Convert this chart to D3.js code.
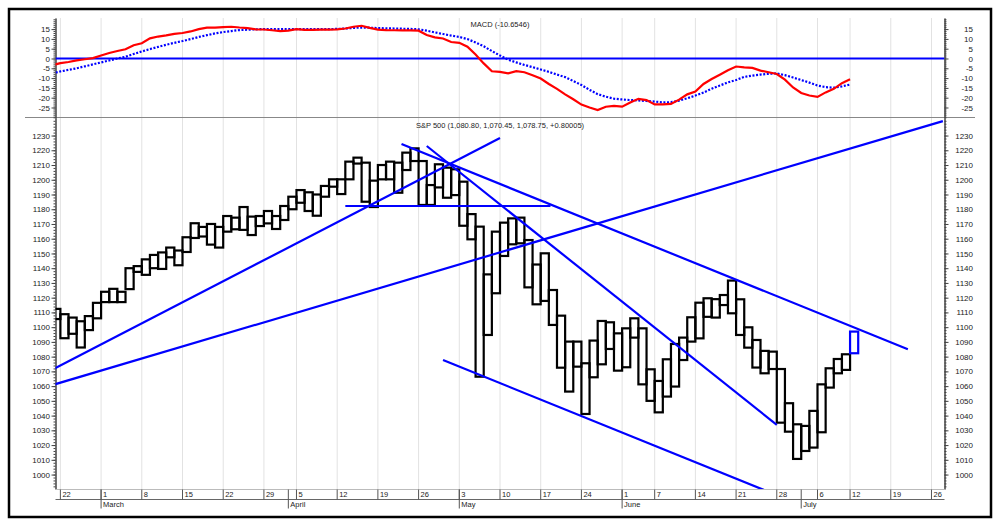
<!DOCTYPE html>
<html><head><meta charset="utf-8">
<script src="https://cdn.jsdelivr.net/npm/d3@7/dist/d3.min.js"></script>
<style>
html,body{margin:0;padding:0;background:#fff;}
svg{display:block;font-family:"Liberation Sans",Arial,sans-serif;}
</style></head><body>
<svg id="c" width="1000" height="526"></svg>
<script>
// ---- DATA (trading-day index 0 = Feb 22, 2010) ----
const boxHighs = [1112.4,1108.8,1106.5,1104,1107.5,1116.5,1124,1126,1124,1140,1141.4,1146,1149,1150.7,1154,1152,1161,1170.5,1168,1170,
1168,1175.4,1174.3,1181.5,1175,1175.4,1178.8,1175.4,1182.2,1188.5,1193,1191.5,1190,1195.8,1200.3,1200.3,1212.3,1215,1211.6,1199.4,
1210,1212.3,1211.6,1218.4,1221.3,1212.7,1196.4,1210.5,1208.2,1207.1,1198.7,1176.7,1168.2,1135.8,1164.8,1170.9,1173.8,1174.3,1159.1,1142.5,
1150.1,1125.2,1107.8,1090.2,1090.2,1075.5,1090.9,1104.2,1103.3,1095.8,1099.2,1106,1099.2,1071.4,1063.5,1078.2,1088.6,1092.9,1106.7,1116.6,
1119.6,1119,1121.8,1131.6,1118.9,1099.9,1091.3,1083.9,1083.4,1071.6,1048.4,1034.1,1033,1043.2,1061.2,1072.1,1078.4,1081.6];
const boxLows = [1105.5,1092.5,1095.5,1086.2,1098,1106,1117,1117,1117,1125.8,1137.5,1135.5,1140,1139.5,1147.4,1142,1151,1160.5,1161.5,1156,
1154,1164.8,1166.4,1166,1162.5,1168.6,1170.4,1166.6,1172.7,1180,1184.4,1178.8,1175.6,1188.5,1195.3,1190.3,1200.3,1211,1185.1,1181.5,
1200.3,1200.3,1191.2,1206.6,1212.7,1182.9,1182.9,1194.8,1187.8,1189.6,1168.8,1159.6,1066.4,1094.7,1123,1148.3,1156.2,1156.9,1127,1115.5,
1117.8,1101.5,1072.5,1056.3,1073.2,1041.1,1066,1074.8,1085.2,1070.5,1072.8,1092.9,1061.2,1050,1042.2,1052.9,1059.7,1077.7,1090.2,1092.4,
1107,1106.5,1115,1109.4,1094.7,1086.1,1072.6,1068.7,1071.6,1035.2,1029.1,1010.6,1016,1018.3,1028.7,1059,1068.7,1071];
const liveBox = {day: 98, high: 1097, low: 1082.3};

// MACD values, first entry is trading day -1
const macdFirstDay = -1;
const macdLine = [-3.4,-2.4,-1.8,-1.0,-0.4,0.2,1.5,2.8,3.8,4.7,6.8,7.8,10.3,11.2,11.8,12.6,13.0,13.8,15.0,15.7,
15.7,16.0,16.2,15.8,15.5,14.9,14.8,14.4,14.0,14.2,15.0,14.6,14.6,14.7,14.7,14.9,15.3,16.2,16.7,15.6,
14.7,14.5,14.4,14.3,14.3,14.2,12.0,10.8,10.2,8.4,8.0,6.0,2.0,-2.5,-6.5,-6.8,-7.6,-6.5,-7.0,-8.5,
-10.2,-13.0,-15.5,-18.3,-20.8,-23.5,-25.0,-26.3,-24.6,-24.2,-24.6,-22.5,-20.6,-21.2,-23.4,-23.4,-23.2,-21.0,-18.3,-16.9,
-13.0,-10.5,-8.3,-6.0,-4.1,-4.5,-4.8,-6.2,-7.0,-7.9,-10.8,-14.8,-17.6,-18.9,-19.6,-17.3,-15.5,-12.6,-10.65];
const signalLine = [-7.6,-6.6,-5.8,-5.0,-4.0,-3.0,-2.0,-1.0,0.0,0.9,2.3,3.6,4.8,5.9,7.0,8.0,8.9,9.9,11.0,11.9,
12.8,13.5,14.0,14.5,14.7,14.9,15.0,15.0,15.0,15.0,15.0,15.0,15.0,15.0,15.0,15.1,15.3,15.6,15.8,15.7,
15.5,15.4,15.3,15.2,15.1,14.9,14.2,13.3,12.5,11.7,11.0,9.9,8.2,6.2,3.8,1.5,-0.6,-2.0,-3.3,-4.4,
-5.6,-6.8,-8.2,-9.5,-11.5,-13.5,-16.0,-18.2,-19.5,-20.5,-20.9,-21.2,-21.4,-21.7,-22.0,-22.4,-22.3,-21.5,-20.3,-18.9,
-17.4,-15.4,-13.8,-12.2,-11.0,-9.4,-8.7,-8.2,-7.8,-7.6,-8.5,-9.7,-11.0,-12.3,-13.8,-14.6,-14.9,-14.2,-13.3];

const weekTickDays = [0,5,10,15,20,25,29,34,39,44,49,54,59,64,69,73,78,83,88,93,97,102,107];
const weekTickLabels = ["22","1","8","15","22","29","5","12","19","26","3","10","17","24","1","7","14","21","28","6","12","19","26"];
const monthTickDays = [5,28,49,69,91];
const monthLabels = ["March","April","May","June","July"];

const priceTicks = d3.range(1000, 1231, 10);
const macdTicks = [15,10,5,0,-5,-10,-15,-20,-25];

// trend lines: [day, price] endpoints
const trendLines = [
  [[-1,1071.1],[54,1228.3]],
  [[-1,1060.7],[108.4,1239.8]],
  [[35,1182.2],[60.2,1182.2]],
  [[41.9,1224.2],[104.1,1085]],
  [[45.0,1222.9],[88.0,1033.7]],
  [[47.0,1077.7],[86.4,989.6]]
];

const macdTitle = "MACD (-10.6546)";
const priceTitle = "S&P 500 (1,080.80, 1,070.45, 1,078.75, +0.80005)";

// ---- LAYOUT ----
const svg = d3.select("#c");
const L = 55.5, R = 944.5, mTop = 18, mBot = 118, pTop = 118, pBot = 489;
const x = d3.scaleLinear().domain([-0.6, 108.6]).range([L, R]);
const yP = d3.scaleLinear().domain([990.2, 1241.9]).range([pBot, pTop]);
const yM = d3.scaleLinear().domain([-30.36, 20.66]).range([mBot, mTop]);
const blue = "#0000ff";
const plain = d => String(d);

svg.append("rect").attr("x",9).attr("y",9).attr("width",982).attr("height",508)
  .attr("fill","#fff").attr("stroke","#000").attr("stroke-width",2.5);

const defs = svg.append("defs");
defs.append("clipPath").attr("id","cp").append("rect").attr("x",L).attr("y",pTop).attr("width",R-L).attr("height",pBot-pTop);
defs.append("clipPath").attr("id","cm").append("rect").attr("x",L).attr("y",mTop).attr("width",R-L).attr("height",mBot-mTop);

// grid
svg.append("g").selectAll("line").data(weekTickDays).join("line")
  .attr("x1",d=>x(d)).attr("x2",d=>x(d)).attr("y1",mTop).attr("y2",pBot)
  .attr("stroke","#e2e2e2").attr("stroke-width",1);

// separator
svg.append("line").attr("x1",25).attr("x2",975).attr("y1",117.5).attr("y2",117.5).attr("stroke","#888").attr("stroke-width",1);

// axes helper
function styleAxis(g){
  g.selectAll("path").attr("stroke","#444");
  g.selectAll("line").attr("stroke","#444");
  g.selectAll("text").attr("fill","#222").style("font-size","8px").style("font-family","'Liberation Sans',Arial,sans-serif");
}
// main price axes
const gpl = svg.append("g").attr("transform",`translate(${L},0)`)
  .call(d3.axisLeft(yP).tickValues(d3.range(992,1241,2)).tickSize(2).tickSizeOuter(0).tickFormat(""));
styleAxis(gpl);
const gplM = svg.append("g").attr("transform",`translate(${L},0)`)
  .call(d3.axisLeft(yP).tickValues(priceTicks).tickSize(4).tickPadding(1.5).tickSizeOuter(0).tickFormat(plain));
styleAxis(gplM);
const gpr = svg.append("g").attr("transform",`translate(${R},0)`)
  .call(d3.axisRight(yP).tickValues(d3.range(992,1241,2)).tickSize(2).tickSizeOuter(0).tickFormat(""));
styleAxis(gpr);
const gprM = svg.append("g").attr("transform",`translate(${R},0)`)
  .call(d3.axisRight(yP).tickValues(priceTicks).tickSize(4).tickSizeOuter(0).tickFormat(plain));
styleAxis(gprM);
gprM.selectAll("text").attr("x",28.5).attr("text-anchor","end");

// macd axes
const gml = svg.append("g").attr("transform",`translate(${L},0)`)
  .call(d3.axisLeft(yM).tickValues(d3.range(-30,21,1)).tickSize(2).tickSizeOuter(0).tickFormat(""));
styleAxis(gml);
const gmlM = svg.append("g").attr("transform",`translate(${L},0)`)
  .call(d3.axisLeft(yM).tickValues(macdTicks).tickSize(4).tickPadding(1.5).tickSizeOuter(0).tickFormat(plain));
styleAxis(gmlM);
const gmr = svg.append("g").attr("transform",`translate(${R},0)`)
  .call(d3.axisRight(yM).tickValues(d3.range(-30,21,1)).tickSize(2).tickSizeOuter(0).tickFormat(""));
styleAxis(gmr);
const gmrM = svg.append("g").attr("transform",`translate(${R},0)`)
  .call(d3.axisRight(yM).tickValues(macdTicks).tickSize(4).tickSizeOuter(0).tickFormat(plain));
styleAxis(gmrM);
gmrM.selectAll("text").attr("x",28.5).attr("text-anchor","end");

// titles
svg.append("text").attr("x",500).attr("y",26.5).attr("text-anchor","middle").attr("fill","#222").style("font-size","7.5px").text(macdTitle);
svg.append("text").attr("x",500).attr("y",127.5).attr("text-anchor","middle").attr("fill","#222").style("font-size","7.5px").text(priceTitle);

// MACD panel
const gm = svg.append("g").attr("clip-path","url(#cm)");
gm.append("line").attr("x1",L).attr("x2",R).attr("y1",yM(0)).attr("y2",yM(0)).attr("stroke",blue).attr("stroke-width",2);
const lineM = d3.line().x((d,i)=>x(i+macdFirstDay)).y(d=>yM(d));
gm.append("path").datum(signalLine).attr("d",lineM).attr("fill","none").attr("stroke",blue)
  .attr("stroke-width",2.2).attr("stroke-dasharray","2,1.6");
gm.append("path").datum(macdLine).attr("d",lineM).attr("fill","none").attr("stroke","#ff0000").attr("stroke-width",2.2);

// price boxes
const gp = svg.append("g").attr("clip-path","url(#cp)");
gp.selectAll("rect.box").data(boxHighs).join("rect").attr("class","box")
  .attr("x",(d,i)=>x(i-1)).attr("width",(d,i)=>x(i)-x(i-1))
  .attr("y",d=>yP(d)).attr("height",(d,i)=>yP(boxLows[i])-yP(d))
  .attr("fill","none").attr("stroke","#000").attr("stroke-width",2.2);
gp.append("rect").attr("x",x(liveBox.day-1)).attr("width",x(liveBox.day)-x(liveBox.day-1))
  .attr("y",yP(liveBox.high)).attr("height",yP(liveBox.low)-yP(liveBox.high))
  .attr("fill","none").attr("stroke",blue).attr("stroke-width",2.2);

// trend lines
const lineT = d3.line().x(d=>x(d[0])).y(d=>yP(d[1]));
gp.selectAll("path.tl").data(trendLines).join("path").attr("class","tl")
  .attr("d",lineT).attr("fill","none").attr("stroke",blue).attr("stroke-width",2.2);

// x axis rows
const gx = svg.append("g");
gx.append("line").attr("x1",L).attr("x2",R).attr("y1",489.5).attr("y2",489.5).attr("stroke","#bbb");
gx.append("line").attr("x1",L).attr("x2",R).attr("y1",499.5).attr("y2",499.5).attr("stroke","#666");
gx.selectAll("line.wk").data(weekTickDays).join("line").attr("class","wk")
  .attr("x1",d=>x(d)).attr("x2",d=>x(d)).attr("y1",489.5).attr("y2",499.5).attr("stroke","#555");
gx.selectAll("text.wk").data(weekTickDays).join("text").attr("class","wk")
  .attr("x",d=>x(d)+2).attr("y",497).attr("fill","#222").style("font-size","7.5px")
  .text((d,i)=>weekTickLabels[i]);
gx.selectAll("line.mo").data(monthTickDays).join("line").attr("class","mo")
  .attr("x1",d=>x(d)).attr("x2",d=>x(d)).attr("y1",489.5).attr("y2",508.5).attr("stroke","#555");
gx.selectAll("text.mo").data(monthTickDays).join("text").attr("class","mo")
  .attr("x",d=>x(d)+2).attr("y",507).attr("fill","#222").style("font-size","7.5px")
  .text((d,i)=>monthLabels[i]);
</script>
</body></html>
